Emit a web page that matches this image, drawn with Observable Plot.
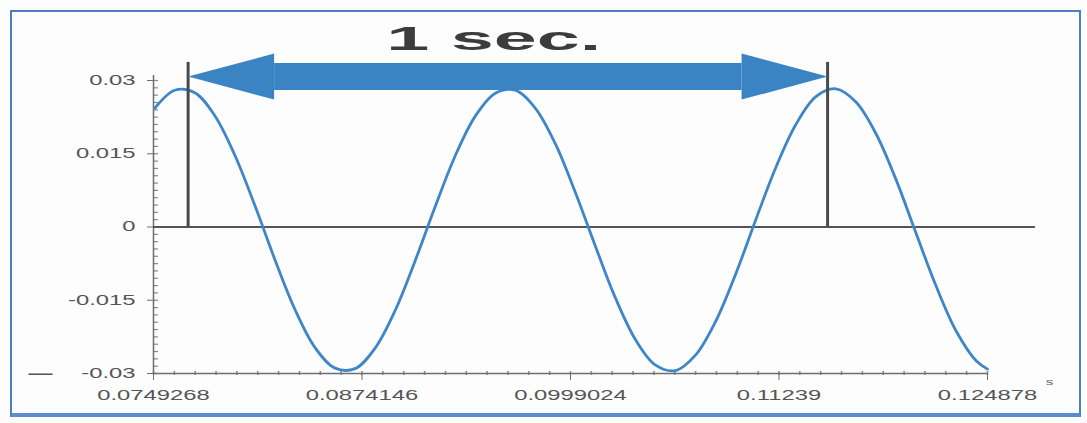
<!DOCTYPE html>
<html>
<head>
<meta charset="utf-8">
<script src="https://cdn.jsdelivr.net/npm/d3@7"></script>
<script src="https://cdn.jsdelivr.net/npm/@observablehq/plot@0.6"></script>
<style>
  html, body { margin: 0; padding: 0; background: #fdfdfd; }
  #wrap { position: relative; width: 1087px; height: 423px; overflow: hidden; }
  #frame { position: absolute; left: 10px; top: 10px; width: 1067px; height: 401px;
           border: 2px solid #4d7fbf; border-bottom: 4px solid #5b8ccc; pointer-events: none; }
  #chart { position: absolute; left: 0; top: 0; }
</style>
</head>
<body>
<div id="wrap"><div id="chart"></div><div id="frame"></div></div>
<script>
// ---- data ----
const time = [0.0750, 0.0762, 0.0774, 0.0786, 0.0798, 0.0810, 0.0822, 0.0834, 0.0846, 0.0858,
  0.0870, 0.0882, 0.0894, 0.0906, 0.0918, 0.0930, 0.0942, 0.0954, 0.0966, 0.0978,
  0.0990, 0.1002, 0.1014, 0.1026, 0.1038, 0.1050, 0.1062, 0.1074, 0.1086, 0.1098,
  0.1110, 0.1122, 0.1134, 0.1146, 0.1158, 0.1170, 0.1182, 0.1194, 0.1206, 0.1218,
  0.1230, 0.1242, 0.124878];
const amplitude = [0.0243, 0.0280, 0.0275, 0.0228, 0.0147, 0.0044, -0.0067, -0.0169, -0.0247, -0.0289,
  -0.0290, -0.0248, -0.0171, -0.0069, 0.0042, 0.0146, 0.0227, 0.0274, 0.0280, 0.0243,
  0.0170, 0.0070, -0.0040, -0.0146, -0.0231, -0.0283, -0.0294, -0.0262, -0.0193, -0.0096,
  0.0015, 0.0122, 0.0210, 0.0267, 0.0283, 0.0256, 0.0191, 0.0097, -0.0013, -0.0121,
  -0.0213, -0.0274, -0.0291];

const xTicks = [0.0749268, 0.0874146, 0.0999024, 0.1123902, 0.124878];
const xTickLabels = ["0.0749268", "0.0874146", "0.0999024", "0.11239", "0.124878"];
const yTicks = [0.03, 0.015, 0, -0.015, -0.03];
const yTickLabels = ["0.03", "0.015", "0", "-0.015", "-0.03"];
const xMinorStep = 0.00124878;
const yMinorStep = 0.0015;

const markers = [0.0770, 0.1153];       // the two vertical "1 sec." markers
const markerTop = 0.0337;
const arrowY = 0.0308;
const zeroLineEnd = 0.12775;
const annotation = "1 sec.";
const annotationX = 0.0953;
const annotationY = 0.0385;

// ---- chart ----
const xMin = xTicks[0], xMax = xTicks[xTicks.length - 1];
const width = 1087, height = 423;
const mL = 153, mR = 100, mT = 80, mB = 50;
const pxPerUnit = (width - mL - mR) / (xMax - xMin);
const headPx = 86;
const headLen = headPx / pxPerUnit;
const yPx = (height - mT - mB) / 0.06;

const series = time.map((t, i) => ({t, v: amplitude[i]}));
const xMinor = d3.range(0, 41).map(i => xMin + i * xMinorStep);
const yMinor = d3.range(0, 41).map(i => -0.03 + i * yMinorStep);
const xLab = new Map(xTicks.map((d, i) => [d, xTickLabels[i]]));
const yLab = new Map(yTicks.map((d, i) => [d, yTickLabels[i]]));

const headSymbol = {
  draw(context) {
    context.moveTo(0, 0);
    context.lineTo(-headPx, -23);
    context.lineTo(-headPx, 23);
    context.closePath();
  }
};

const arrowBlue = "#3b84c4";
const axisGray = "#6e6e6e";
const labelGray = "#555";

const chart = Plot.plot({
  width, height,
  marginLeft: mL, marginRight: mR, marginTop: mT, marginBottom: mB,
  style: {background: "transparent", fontFamily: "Liberation Sans, Arial, sans-serif"},
  x: {domain: [xMin, xMax], axis: null, label: null},
  y: {domain: [-0.03, 0.03], axis: null, label: null},
  marks: [
    // minor ticks
    Plot.ruleY(yMinor, {x1: xMin, x2: xMin + 5 / pxPerUnit, stroke: "#8a8a8a", strokeWidth: 1.2}),
    Plot.ruleX(xMinor, {y1: -0.03 - 2 / yPx, y2: -0.03 + 2 / yPx, stroke: "#8a8a8a", strokeWidth: 1.5}),
    // axis lines
    Plot.ruleX([xMin], {y1: -0.03, y2: 0.031, stroke: axisGray, strokeWidth: 1.5}),
    Plot.ruleY([-0.03], {x1: xMin, x2: xMax, stroke: axisGray, strokeWidth: 1.5}),
    Plot.axisX({ticks: xTicks, tickFormat: d => xLab.get(d), tickSize: 7, tickPadding: 10,
      fontSize: 14, color: labelGray, stroke: axisGray, label: null}),
    Plot.axisY({ticks: yTicks, tickFormat: d => yLab.get(d), tickSize: 6, tickPadding: 12,
      fontSize: 14, color: labelGray, stroke: axisGray, label: null}),
    // zero line
    Plot.ruleY([0], {x1: xMin, x2: zeroLineEnd, stroke: "#555", strokeWidth: 2}),
    // signal
    Plot.line(series, {x: "t", y: "v", stroke: "#3f86c8", strokeWidth: 2.8, curve: "catmull-rom"}),
    // markers
    Plot.ruleX(markers, {y1: 0, y2: markerTop, stroke: "#4a4a4a", strokeWidth: 3}),
    // double arrow
    Plot.link([{a: markers[0] + headLen, b: markers[1] - headLen}],
      {x1: "a", x2: "b", y1: arrowY, y2: arrowY, stroke: arrowBlue, strokeWidth: 27, strokeLinecap: "butt"}),
    Plot.dot([{x: markers[1], r: 0}, {x: markers[0], r: 180}],
      {x: "x", y: arrowY, rotate: "r", symbol: headSymbol, fill: arrowBlue, stroke: "none"}),
    // annotation
    Plot.text([annotation], {x: annotationX, y: annotationY, fontSize: 34, fill: "#3c3c3c",
      fontFamily: "Liberation Sans", fontWeight: "bold", textAnchor: "middle", className: "title-ann"}),
    // stray marks
    Plot.text(["—"], {x: xMin, y: -0.03, dx: -125, dy: -1, fontSize: 24, fill: "#555",
      textAnchor: "start", className: "keep"}),
    Plot.text(["s"], {x: xMax, y: -0.03, dx: 62, dy: 9, fontSize: 9, fill: "#666"})
  ]
});
document.getElementById("chart").appendChild(chart);

// the photographed chart is stretched horizontally: widen its texts
chart.querySelectorAll("text").forEach(t => {
  const g = t.closest("g");
  if (g && g.classList.contains("keep")) return;
  const w = t.getComputedTextLength();
  const isTitle = g && g.classList.contains("title-ann");
  t.setAttribute("textLength", isTitle ? 215 : w * 1.7);
  t.setAttribute("lengthAdjust", "spacingAndGlyphs");
});
</script>
</body>
</html>
